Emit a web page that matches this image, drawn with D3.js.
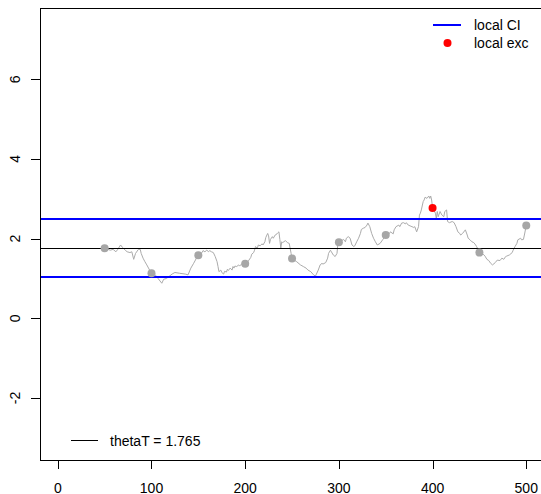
<!DOCTYPE html>
<html>
<head>
<meta charset="utf-8">
<script src="https://cdn.jsdelivr.net/npm/d3@7"></script>
<style>
  html, body { margin: 0; padding: 0; background: #fff; }
  svg text { font-family: "Liberation Sans", Arial, sans-serif; }
</style>
</head>
<body>
<svg id="chart" width="541" height="494"></svg>
<script>
// Local estimate of theta over time (t, value)
const seriesT = [50,56,59,62,64,67,69,72,74,77,79,81,83,86,88,89,91,93,95,98,100,104,107,111,113,116,122,125,130,136,139,142,145,148,150,
  154,155,157,159,161,162,164,166,168,170,171,172,174,175,177,178,180,181,182,184,186,187,188,189,191,193,194,196,198,200,202,204,206,207,209,210,211,213,214,216,218,219,221,222,224,225,226,227,229,230,232,234,235,236,237,238,239,240,243,245,247,249,250,
  255,259,262,265,267,270,273,275,276,278,280,282,283,286,288,289,291,292,294,296,298,299,300,303,305,307,308,310,312,314,316,317,319,321,323,324,326,328,330,331,333,
  335,337,339,341,344,347,349,350,354,355,358,359,361,364,365,367,369,371,372,374,376,378,380,381,383,385,386,387,388,390,391,392,394,396,397,398,399,400,
  403,404,405,406,408,410,412,413,415,416,418,421,423,425,427,429,430,432,435,437,438,440,442,444,446,447,449,450,
  454,456,458,460,462,464,467,469,472,474,476,478,479,482,485,486,488,490,491,494,495,497,498,500];
const seriesV = [1.76,1.71,1.73,1.67,1.73,1.84,1.78,1.71,1.67,1.65,1.67,1.48,1.63,1.73,1.73,1.63,1.51,1.42,1.34,1.21,1.13,1.09,1.00,0.88,0.98,1.00,1.11,1.15,1.13,1.11,1.09,1.26,1.38,1.51,1.58,
  1.65,1.70,1.67,1.71,1.67,1.70,1.67,1.65,1.55,1.42,1.30,1.17,1.21,1.15,1.11,1.18,1.16,1.23,1.20,1.26,1.21,1.30,1.26,1.31,1.30,1.34,1.31,1.36,1.38,1.37,1.40,1.46,1.53,1.61,1.65,1.71,1.80,1.76,1.84,1.82,1.87,1.84,1.92,2.03,2.13,2.07,1.88,1.98,2.05,2.01,2.09,2.12,2.15,2.17,1.98,1.76,1.92,1.90,1.95,1.90,1.88,1.63,1.50,
  1.42,1.34,1.30,1.26,1.21,1.17,1.09,1.06,1.11,1.21,1.34,1.38,1.36,1.40,1.51,1.63,1.71,1.67,1.59,1.55,1.63,1.90,1.91,1.95,1.98,1.92,2.01,2.05,2.01,1.84,1.80,1.82,1.92,2.01,2.13,2.23,2.26,2.28,2.34,2.39,2.30,
  2.13,2.01,1.92,1.84,1.88,1.98,2.05,2.09,2.13,2.17,2.12,2.22,2.30,2.34,2.30,2.39,2.40,2.37,2.40,2.34,2.32,2.30,2.28,2.30,2.17,2.30,2.59,2.64,2.72,2.93,2.97,3.04,3.01,3.07,3.01,3.07,2.97,2.77,
  2.64,2.51,2.68,2.55,2.68,2.59,2.55,2.68,2.72,2.43,2.40,2.43,2.40,2.30,2.17,2.13,2.09,2.13,2.22,2.09,2.01,1.97,1.92,1.90,1.84,1.80,1.71,1.65,
  1.61,1.56,1.48,1.45,1.38,1.34,1.40,1.46,1.45,1.51,1.48,1.55,1.56,1.59,1.65,1.71,1.80,1.88,1.97,2.01,1.97,1.98,2.09,2.33];

// Checkpoints where the local value is tested against the CI
const checkT = [50,100,150,200,250,300,350,400,450,500];

const thetaT = 1.765;
const ciLower = 1.038;
const ciUpper = 2.492;

const xTicks = [0,100,200,300,400,500];
const yTicks = [-2,0,2,4,6];
const xLimits = [-19, 520];
const yLimits = [-3.557, 7.789];

const legendTop = ["local CI", "local exc"];
const legendBottom = "thetaT = " + thetaT.toFixed(3);

const plot = { left: 40, right: 545, top: 8, bottom: 460 };

const svg = d3.select("#chart");
const x = d3.scaleLinear().domain(xLimits).range([plot.left, plot.right]);
const y = d3.scaleLinear().domain(yLimits).range([plot.bottom, plot.top]);

svg.append("defs").append("clipPath").attr("id", "clip")
  .append("rect")
  .attr("x", plot.left).attr("y", plot.top)
  .attr("width", plot.right - plot.left).attr("height", plot.bottom - plot.top);

const g = svg.append("g").attr("clip-path", "url(#clip)");

const series = seriesT.map((t, i) => ({ t, v: seriesV[i] }));

// Running local estimate
g.append("path")
  .datum(series)
  .attr("fill", "none")
  .attr("stroke", "#ababab")
  .attr("stroke-width", 1)
  .attr("d", d3.line().x(d => x(d.t)).y(d => y(d.v)));

// Global estimate (1px line snapped to the pixel grid)
const yTheta = Math.round(y(thetaT)) + 0.5;
g.append("line")
  .attr("x1", plot.left).attr("x2", plot.right)
  .attr("y1", yTheta).attr("y2", yTheta)
  .attr("stroke", "#000").attr("stroke-width", 1);

// Confidence band limits
[ciLower, ciUpper].forEach(v => {
  const py = Math.round(y(v));
  g.append("line")
    .attr("x1", plot.left).attr("x2", plot.right)
    .attr("y1", py).attr("y2", py)
    .attr("stroke", "#0000ff").attr("stroke-width", 2);
});

// Checkpoint markers, red where the value leaves the band
const valueAt = t => seriesV[seriesT.indexOf(t)];
g.selectAll("circle.check")
  .data(checkT.map(t => ({ t, v: valueAt(t) })))
  .join("circle")
  .attr("class", "check")
  .attr("cx", d => x(d.t))
  .attr("cy", d => y(d.v))
  .attr("r", 4)
  .attr("fill", d => (d.v > ciUpper || d.v < ciLower) ? "#ff0000" : "#a6a6a6");

// Frame
svg.append("rect")
  .attr("x", plot.left + 0.5).attr("y", plot.top + 0.5)
  .attr("width", plot.right - plot.left).attr("height", plot.bottom - plot.top)
  .attr("fill", "none").attr("stroke", "#000").attr("stroke-width", 1);

// X axis
const xAxis = svg.append("g");
xTicks.forEach(t => {
  const px = Math.round(x(t)) + 0.5;
  xAxis.append("line")
    .attr("x1", px).attr("x2", px)
    .attr("y1", plot.bottom).attr("y2", plot.bottom + 9)
    .attr("stroke", "#000");
  xAxis.append("text")
    .attr("x", x(t)).attr("y", 492.5)
    .attr("text-anchor", "middle")
    .attr("font-size", 14)
    .text(t);
});

// Y axis
const yAxis = svg.append("g");
yTicks.forEach(v => {
  const py = Math.round(y(v)) + 0.5;
  yAxis.append("line")
    .attr("x1", plot.left - 9).attr("x2", plot.left)
    .attr("y1", py).attr("y2", py)
    .attr("stroke", "#000");
  yAxis.append("text")
    .attr("transform", `translate(19.5,${y(v)}) rotate(-90)`)
    .attr("text-anchor", "middle")
    .attr("font-size", 14)
    .text(v);
});

// Legend, top right
const lt = svg.append("g");
lt.append("line")
  .attr("x1", 433).attr("x2", 461).attr("y1", 25).attr("y2", 25)
  .attr("stroke", "#0000ff").attr("stroke-width", 2);
lt.append("circle").attr("cx", 447.5).attr("cy", 43).attr("r", 4).attr("fill", "#ff0000");
legendTop.forEach((s, i) => {
  lt.append("text")
    .attr("x", 474).attr("y", 30 + i * 18)
    .attr("font-size", 14)
    .text(s);
});

// Legend, bottom left
const lb = svg.append("g");
lb.append("line")
  .attr("x1", 71).attr("x2", 98).attr("y1", 440.5).attr("y2", 440.5)
  .attr("stroke", "#000").attr("stroke-width", 1);
lb.append("text")
  .attr("x", 110).attr("y", 445.5)
  .attr("font-size", 14)
  .text(legendBottom);
</script>
</body>
</html>
